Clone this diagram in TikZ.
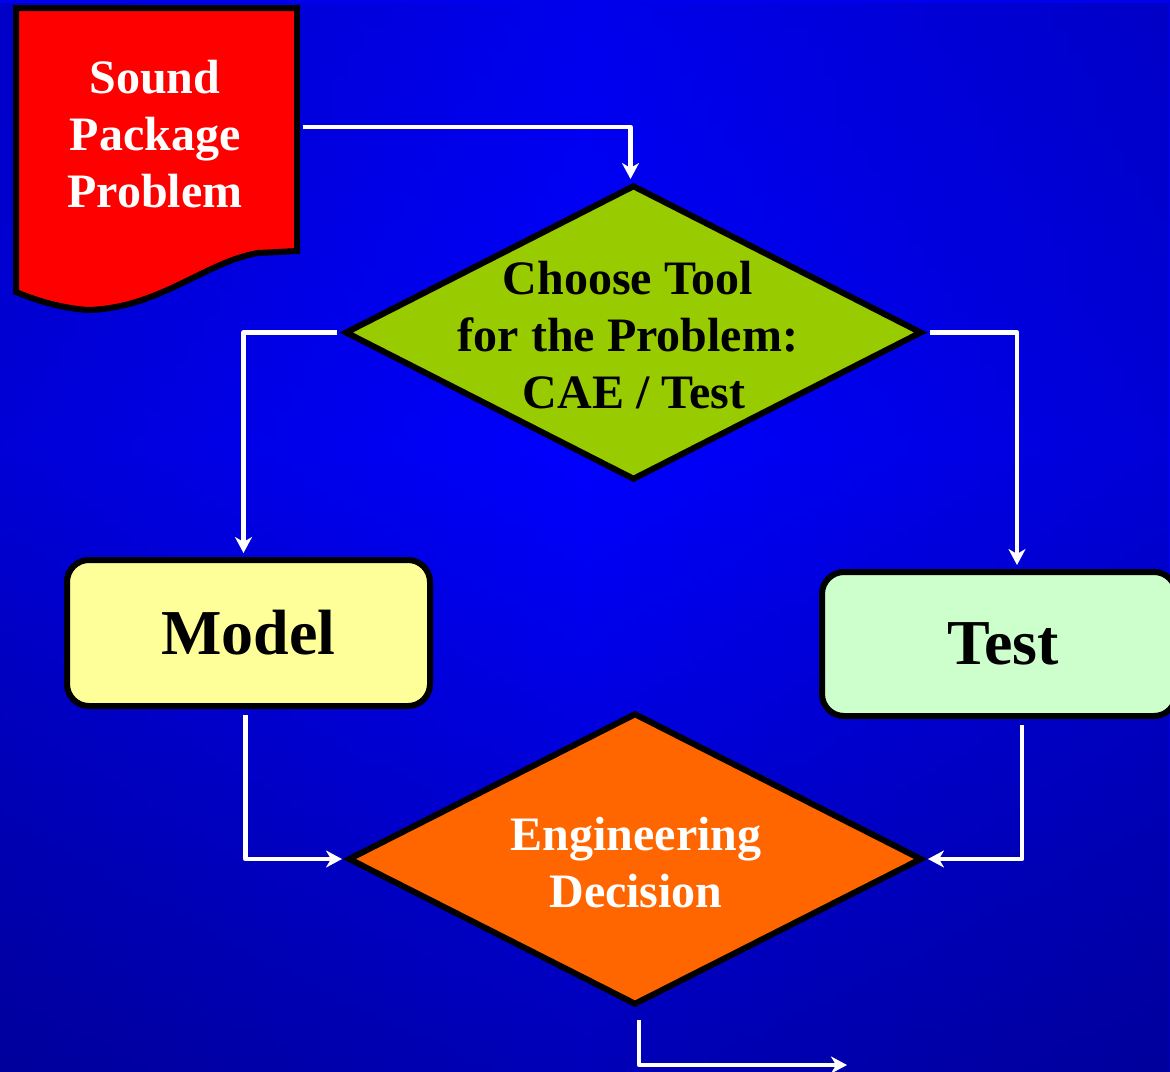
\documentclass[tikz,border=0pt]{standalone}
\usepackage{fontspec}
\setmainfont{Liberation Serif}
\usetikzlibrary{arrows.meta,shapes.geometric,fadings}
\definecolor{bgtop}{RGB}{0,0,214}
\definecolor{bgmid}{RGB}{0,0,255}
\definecolor{bgbot}{RGB}{0,0,124}
\definecolor{dgreen}{HTML}{99CC00}
\definecolor{dorange}{HTML}{FF6600}
\definecolor{bylw}{HTML}{FFFF99}
\definecolor{bgrn}{HTML}{CCFFCC}
\pgfdeclareverticalshading{bgv}{100bp}{color(0bp)=(bgbot); color(54bp)=(bgmid); color(100bp)=(bgtop)}
\tikzfading[name=hfade, left color=transparent!84, right color=transparent!84, middle color=transparent!100]
\begin{document}
\begin{tikzpicture}[x=1pt,y=-1pt,
  arr/.style={draw=white, line width=4.5pt, line join=round, -{Stealth[length=16pt,width=17pt,inset=5pt]}},
  dmd/.style={diamond, draw=black, line width=6pt, inner sep=0pt},
  boxst/.style={draw=black, line width=6pt, rounded corners=22pt, inner sep=0pt, font=\bfseries\fontsize{64}{70}\selectfont},
  lbl/.style={align=center, font=\bfseries\fontsize{48}{57}\selectfont}]
\useasboundingbox (0,0) rectangle (1170,1071);
\shade[shading=bgv] (0,0) rectangle (1170,1071);
\fill[black, path fading=hfade] (0,0) rectangle (1170,1071);

% Sound package problem (document shape)
\filldraw[fill=red, draw=black, line width=6pt, line join=miter]
  (16,8) -- (297,8) -- (297,251) -- (258,253)
  .. controls (205,262) and (160,308) .. (88,310)
  .. controls (60,308) and (35,300) .. (16,292) -- cycle;
\node[lbl, text=white] (sound) at (155,134) {Sound\\Package\\Problem};

% diamonds
\node[dmd, fill=dgreen, minimum width=577pt, minimum height=295pt] (d1) at (633.5,332.5) {};
\node[lbl] (d1t) at (628,335) {Choose Tool\\for the Problem:\\\hspace*{12pt}CAE / Test};
\node[dmd, fill=dorange, minimum width=574pt, minimum height=292pt] (d2) at (635,859) {};
\node[lbl, text=white] (d2t) at (636,863) {Engineering\\Decision};

% boxes
\node[boxst, fill=bylw, minimum width=363pt, minimum height=146pt] (model) at (248.5,633) {Model};
\node[boxst, fill=bgrn, minimum width=354pt, minimum height=144pt] (test) at (999,644) {\hspace{8pt}Test};

% connectors
\coordinate (soundR) at (303,127);
\draw[arr] (soundR) -| ([xshift=-3pt,yshift=3pt]d1.north);
\draw[arr] ([xshift=-5pt]d1.west) -| ([xshift=-5pt,yshift=4pt]model.north);
\draw[arr] ([xshift=5pt]d1.east) -| ([xshift=18pt,yshift=4pt]test.north);
\draw[arr] ([xshift=-3pt,yshift=-6pt]model.south) |- ([xshift=-3pt]d2.west);
\draw[arr] ([xshift=23pt,yshift=-6pt]test.south) |- ([xshift=3pt]d2.east);
\coordinate (out) at (847,1065);
\draw[arr] ([xshift=4pt,yshift=-12pt]d2.south) |- (out);
\end{tikzpicture}
\end{document}
